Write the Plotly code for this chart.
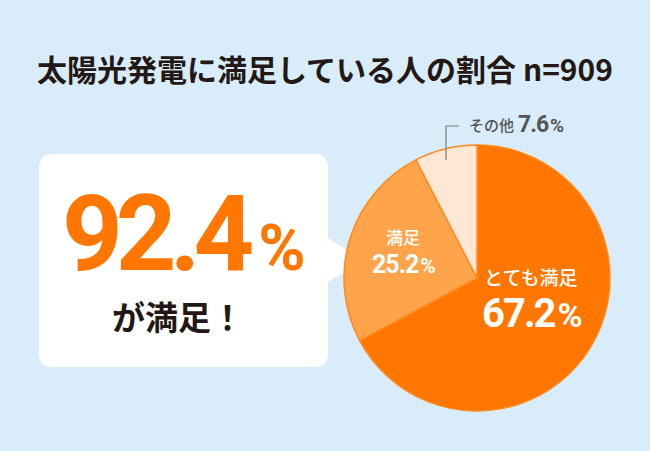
import re
import plotly.graph_objects as go

# ---- data ----
categories = ["とても満足", "満足", "その他"]
values = [67.2, 25.2, 7.6]
title_text = "太陽光発電に満足している人の割合 n=909"
satisfied_total = round(values[0] + values[1], 1)

# ---- styles ----
W, H = 650, 451
BG = "#d8edf9"
colors = ["#ff7700", "#ffa44b", "#fee7d4"]
CJK = "Noto Sans CJK JP"
NUM = "Roboto"

# pie placement (pixels)
cx, cy, r = 477, 278, 133

def px(x):
    return x / W

def py(y):
    return 1 - y / H

fig = go.Figure()
fig.add_trace(go.Pie(
    labels=categories,
    values=values,
    sort=False,
    direction="clockwise",
    rotation=0,
    marker=dict(colors=colors, line=dict(color="#ff8a1c", width=1.5)),
    textinfo="none",
    hoverinfo="label+percent",
    showlegend=False,
    domain=dict(x=[px(cx - r), px(cx + r)], y=[py(cy + r), py(cy - r)]),
))

shapes = []
# callout box (rounded rectangle with pointer)
x0, y0, x1, y1, rad = 39, 154, 328, 367, 14
tip_x, tip_y, b0, b1 = 364, 261, 238, 282
path = (
    f"M {x0+rad},{y0} L {x1-rad},{y0} Q {x1},{y0} {x1},{y0+rad} "
    f"L {x1},{b0} L {tip_x},{tip_y} L {x1},{b1} "
    f"L {x1},{y1-rad} Q {x1},{y1} {x1-rad},{y1} "
    f"L {x0+rad},{y1} Q {x0},{y1} {x0},{y1-rad} "
    f"L {x0},{y0+rad} Q {x0},{y0} {x0+rad},{y0} Z"
)
def conv(m):
    a, b = float(m.group(1)), float(m.group(2))
    return f"{px(a):.5f},{py(b):.5f}"
path_paper = re.sub(r"([\d.]+),([\d.]+)", conv, path)
shapes.append(dict(type="path", xref="paper", yref="paper", path=path_paper,
                   fillcolor="white", line=dict(width=0), layer="below"))
# leader line for その他
shapes.append(dict(type="path", xref="paper", yref="paper",
                   path=f"M {px(446):.5f},{py(160):.5f} L {px(446):.5f},{py(126):.5f} L {px(459):.5f},{py(126):.5f}",
                   line=dict(color="#7a7a7a", width=1.2)))

annotations = []
def ann(x, y, text, size, color, family=CJK, xanchor="center", weight=None):
    f = dict(size=size, color=color, family=family)
    if weight:
        f["weight"] = weight
    annotations.append(dict(x=px(x), y=py(y), xref="paper", yref="paper", text=text,
                            showarrow=False, xanchor=xanchor, yanchor="middle",
                            font=f))

def num(value, ls, gap, pct_size, pct_ls=0):
    s = str(value)
    return (f"<span style='letter-spacing:{ls}px'>{s[:-1]}</span>"
            f"<span style='letter-spacing:{gap}px'>{s[-1]}</span>"
            f"<span style='font-size:{pct_size}px;letter-spacing:{pct_ls}px'>%</span>")

# title
ann(325, 68, title_text, 30, "#231815", weight=600)
# callout text
ann(183, 234, num(satisfied_total, -7, 4, 64, -4), 106, "#ff7700", family=NUM, weight=700)
ann(178, 316, "が満足！", 33, "#231815", weight=600)

# slice labels
ann(530, 276, categories[0], 19, "white", weight=500)
ann(531, 313, num(values[0], -2, 1, 34, -2), 40, "white", family=NUM, weight=700)
ann(403, 236, categories[1], 17, "white", weight=500)
ann(404, 264, num(values[1], -1, 1, 21, -1), 25, "white", family=NUM, weight=700)
ann(467, 125, categories[2], 15, "#555555", xanchor="left", weight=500)
ann(516, 125, num(values[2], -1, 1, 19, -1), 23, "#555555", family=NUM, xanchor="left", weight=700)

fig.update_layout(
    width=W, height=H,
    margin=dict(l=0, r=0, t=0, b=0),
    paper_bgcolor=BG, plot_bgcolor=BG,
    shapes=shapes, annotations=annotations,
)
fig.write_html("out.html", config={"displayModeBar": False},
               post_script="document.body.style.margin='0';document.body.style.overflow='hidden';")
